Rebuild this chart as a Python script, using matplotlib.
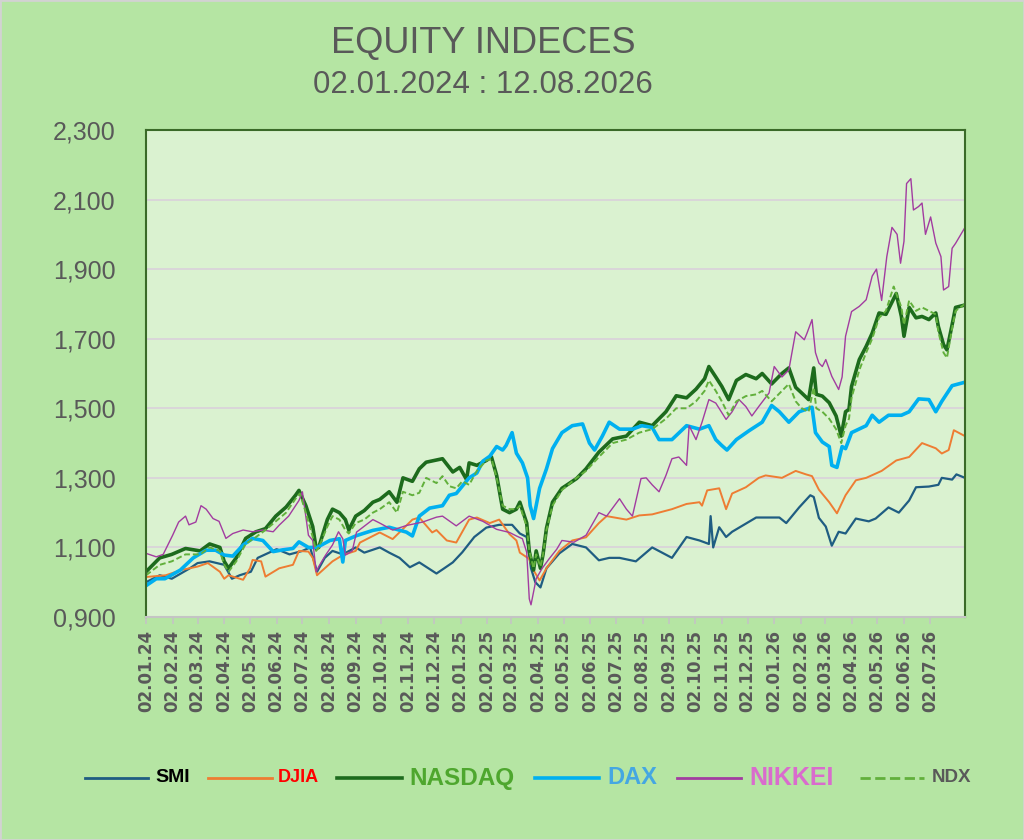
import matplotlib
matplotlib.use("Agg")
import matplotlib.pyplot as plt
import matplotlib.dates as mdates
from matplotlib.lines import Line2D
from matplotlib.patches import Rectangle
import numpy as np
import pandas as pd

# index levels, x = days since 02.01.2024
start = pd.Timestamp("2024-01-02")
end_day = 953

smi_day = [0, 16, 30, 51, 60, 74, 91, 100, 109, 122, 130, 152, 167, 182, 191, 199, 208, 217, 229, 244,
           254, 272, 283, 295, 307, 318, 338, 347, 357, 368, 382, 396, 411, 426, 435, 443, 448, 453, 459, 466,
           481, 496, 512, 527, 539, 551, 570, 589, 612, 629, 644, 655, 657, 660, 667, 675, 682, 710, 737, 745,
           760, 773, 777, 783, 791, 798, 806, 814, 826, 841, 849, 864, 876, 888, 896, 911, 922, 926, 938, 943, 953]
smi_val = [1.00, 1.02, 1.01, 1.04, 1.055, 1.06, 1.05, 1.01, 1.02, 1.03, 1.07, 1.095, 1.08, 1.09, 1.10, 1.03, 1.07, 1.09, 1.08, 1.10,
           1.085, 1.10, 1.085, 1.07, 1.043, 1.057, 1.025, 1.04, 1.057, 1.086, 1.13, 1.157, 1.165, 1.165, 1.14, 1.13, 1.04, 1.00, 0.985, 1.04,
           1.083, 1.11, 1.10, 1.063, 1.07, 1.07, 1.06, 1.10, 1.07, 1.13, 1.12, 1.11, 1.19, 1.10, 1.158, 1.13, 1.145, 1.186, 1.186, 1.17,
           1.215, 1.25, 1.245, 1.185, 1.16, 1.105, 1.145, 1.14, 1.183, 1.175, 1.183, 1.215, 1.20, 1.235, 1.273, 1.275, 1.28, 1.30, 1.295, 1.31, 1.30]

djia_day = [0, 23, 41, 60, 72, 86, 91, 96, 113, 121, 124, 134, 139, 155, 171, 178, 189, 194, 199, 217,
            229, 244, 249, 272, 287, 310, 318, 333, 338, 350, 361, 376, 385, 400, 411, 423, 431, 435, 446, 452,
            458, 466, 481, 496, 512, 527, 536, 559, 574, 589, 612, 629, 644, 647, 653, 667, 675, 682, 698, 713,
            721, 740, 756, 768, 775, 783, 795, 804, 814, 826, 838, 856, 873, 888, 903, 919, 926, 934, 940, 953]
djia_val = [1.015, 1.02, 1.035, 1.045, 1.055, 1.03, 1.01, 1.02, 1.007, 1.04, 1.064, 1.06, 1.016, 1.04, 1.05, 1.09, 1.088, 1.07, 1.02, 1.06,
            1.078, 1.09, 1.114, 1.143, 1.124, 1.18, 1.186, 1.143, 1.15, 1.12, 1.114, 1.18, 1.186, 1.17, 1.18, 1.138, 1.12, 1.085, 1.067, 1.03,
            1.005, 1.04, 1.09, 1.12, 1.129, 1.17, 1.19, 1.18, 1.192, 1.195, 1.21, 1.225, 1.23, 1.22, 1.264, 1.27, 1.21, 1.255, 1.273, 1.30,
            1.307, 1.30, 1.32, 1.31, 1.305, 1.266, 1.23, 1.198, 1.25, 1.293, 1.30, 1.32, 1.35, 1.36, 1.40, 1.385, 1.37, 1.38, 1.437, 1.42]

nasdaq_day = [0, 16, 30, 46, 63, 74, 86, 91, 96, 105, 116, 128, 139, 151, 163, 174, 178, 186, 194, 198,
              201, 211, 217, 225, 232, 236, 244, 254, 264, 272, 283, 292, 299, 310, 318, 326, 345, 357, 365, 373,
              376, 385, 396, 402, 408, 415, 423, 431, 435, 443, 446, 451, 454, 459, 462, 466, 473, 484, 501, 512,
              527, 543, 559, 574, 589, 605, 617, 629, 640, 650, 655, 663, 670, 678, 687, 698, 710, 717, 728, 740,
              748, 756, 763, 771, 777, 780, 787, 795, 803, 809, 814, 818, 821, 830, 838, 845, 853, 861, 873, 879,
              882, 888, 896, 903, 911, 919, 922, 928, 932, 938, 942, 953]
nasdaq_val = [1.03, 1.07, 1.08, 1.097, 1.09, 1.11, 1.10, 1.06, 1.04, 1.07, 1.126, 1.145, 1.154, 1.19, 1.216, 1.25, 1.264, 1.22, 1.16, 1.097,
              1.10, 1.18, 1.21, 1.20, 1.18, 1.15, 1.19, 1.206, 1.23, 1.238, 1.26, 1.23, 1.30, 1.29, 1.326, 1.345, 1.355, 1.317, 1.33, 1.295,
              1.343, 1.336, 1.35, 1.36, 1.307, 1.21, 1.20, 1.21, 1.23, 1.17, 1.088, 1.035, 1.09, 1.04, 1.08, 1.155, 1.23, 1.27, 1.298, 1.326,
              1.374, 1.412, 1.42, 1.46, 1.45, 1.49, 1.536, 1.53, 1.555, 1.585, 1.62, 1.59, 1.563, 1.525, 1.58, 1.597, 1.585, 1.60, 1.57, 1.60,
              1.616, 1.56, 1.544, 1.525, 1.616, 1.54, 1.535, 1.516, 1.478, 1.42, 1.49, 1.497, 1.563, 1.64, 1.678, 1.716, 1.774, 1.77, 1.83, 1.764,
              1.707, 1.79, 1.76, 1.764, 1.755, 1.774, 1.735, 1.683, 1.668, 1.74, 1.79, 1.797]

dax_day = [0, 12, 22, 40, 55, 70, 81, 91, 101, 113, 124, 136, 148, 159, 171, 178, 189, 199, 214, 225,
           229, 232, 245, 264, 283, 303, 310, 318, 330, 345, 353, 361, 368, 376, 385, 392, 400, 408, 415, 419,
           426, 431, 438, 444, 447, 451, 454, 458, 466, 473, 484, 496, 508, 516, 522, 531, 539, 551, 566, 577,
           589, 597, 612, 629, 644, 655, 663, 670, 676, 687, 702, 717, 728, 737, 748, 760, 775, 779, 787, 795,
           798, 804, 810, 814, 821, 838, 845, 853, 864, 879, 888, 899, 911, 919, 926, 938, 953]
dax_val = [0.99, 1.01, 1.01, 1.035, 1.07, 1.092, 1.092, 1.078, 1.075, 1.107, 1.126, 1.12, 1.088, 1.093, 1.097, 1.116, 1.10, 1.10, 1.12, 1.125,
           1.058, 1.12, 1.134, 1.149, 1.158, 1.144, 1.133, 1.19, 1.213, 1.22, 1.25, 1.255, 1.276, 1.30, 1.314, 1.348, 1.362, 1.39, 1.38, 1.393,
           1.43, 1.371, 1.343, 1.30, 1.22, 1.183, 1.22, 1.27, 1.326, 1.384, 1.43, 1.45, 1.455, 1.40, 1.38, 1.42, 1.46, 1.44, 1.44, 1.45,
           1.445, 1.41, 1.41, 1.45, 1.44, 1.45, 1.41, 1.393, 1.38, 1.41, 1.436, 1.46, 1.508, 1.49, 1.46, 1.49, 1.503, 1.43, 1.403, 1.39,
           1.336, 1.33, 1.39, 1.384, 1.43, 1.45, 1.48, 1.46, 1.48, 1.48, 1.49, 1.527, 1.525, 1.49, 1.52, 1.565, 1.575]

nikkei_day = [0, 12, 20, 31, 38, 46, 50, 58, 64, 70, 78, 85, 93, 101, 113, 124, 136, 148, 155, 166,
              178, 182, 189, 194, 198, 201, 209, 217, 224, 229, 232, 240, 245, 264, 272, 287, 303, 322, 338, 345,
              361, 376, 392, 408, 423, 431, 438, 443, 446, 448, 454, 461, 469, 478, 484, 498, 512, 527, 536, 551,
              559, 566, 576, 582, 589, 597, 605, 612, 620, 629, 632, 640, 647, 655, 663, 675, 682, 690, 698, 705,
              713, 725, 731, 740, 748, 756, 766, 769, 775, 779, 783, 787, 791, 798, 806, 810, 814, 821, 830, 838,
              845, 850, 856, 862, 868, 874, 878, 882, 885, 890, 893, 899, 903, 907, 913, 919, 925, 928, 934, 938,
              942, 953]
nikkei_val = [1.083, 1.073, 1.08, 1.135, 1.173, 1.19, 1.165, 1.173, 1.22, 1.21, 1.183, 1.175, 1.126, 1.14, 1.15, 1.145, 1.15, 1.145, 1.164, 1.19,
              1.235, 1.26, 1.135, 1.12, 1.03, 1.045, 1.078, 1.107, 1.145, 1.125, 1.078, 1.09, 1.144, 1.18, 1.17, 1.15, 1.163, 1.173, 1.187, 1.19,
              1.162, 1.19, 1.175, 1.152, 1.143, 1.133, 1.125, 1.086, 0.952, 0.935, 1.01, 1.04, 1.067, 1.095, 1.12, 1.115, 1.135, 1.20, 1.19, 1.24,
              1.21, 1.19, 1.298, 1.30, 1.28, 1.26, 1.307, 1.355, 1.36, 1.336, 1.45, 1.41, 1.46, 1.525, 1.515, 1.468, 1.49, 1.525, 1.505, 1.478,
              1.505, 1.544, 1.62, 1.59, 1.61, 1.72, 1.697, 1.715, 1.755, 1.66, 1.63, 1.62, 1.64, 1.592, 1.554, 1.59, 1.707, 1.778, 1.793, 1.812,
              1.88, 1.90, 1.81, 1.936, 2.02, 2.00, 1.917, 1.98, 2.146, 2.16, 2.07, 2.08, 2.09, 2.00, 2.05, 1.975, 1.936, 1.84, 1.85, 1.96,
              1.974, 2.02]

ndx_day = [0, 16, 30, 46, 63, 74, 86, 91, 96, 105, 116, 128, 139, 151, 163, 174, 179, 186, 194, 198,
           201, 211, 217, 225, 232, 236, 244, 254, 264, 272, 283, 292, 299, 310, 318, 326, 338, 345, 353, 361,
           368, 376, 385, 396, 402, 408, 415, 423, 431, 435, 443, 446, 451, 454, 459, 462, 466, 473, 484, 501,
           512, 527, 543, 559, 574, 589, 605, 617, 629, 640, 650, 655, 663, 670, 678, 687, 698, 710, 717, 728,
           740, 748, 756, 763, 771, 777, 780, 787, 795, 803, 809, 814, 818, 821, 830, 838, 845, 853, 861, 870,
           879, 882, 888, 896, 903, 911, 919, 922, 928, 932, 938, 942, 953]
ndx_val = [1.02, 1.05, 1.06, 1.08, 1.08, 1.10, 1.09, 1.05, 1.03, 1.06, 1.11, 1.13, 1.15, 1.175, 1.20, 1.24, 1.255, 1.20, 1.13, 1.09,
           1.10, 1.16, 1.19, 1.18, 1.15, 1.14, 1.17, 1.18, 1.20, 1.21, 1.23, 1.20, 1.26, 1.25, 1.257, 1.30, 1.285, 1.305, 1.276, 1.27,
           1.29, 1.28, 1.32, 1.35, 1.355, 1.30, 1.22, 1.21, 1.21, 1.22, 1.16, 1.09, 1.04, 1.08, 1.045, 1.08, 1.15, 1.22, 1.265, 1.30,
           1.32, 1.36, 1.40, 1.41, 1.43, 1.44, 1.47, 1.50, 1.50, 1.52, 1.55, 1.58, 1.55, 1.52, 1.48, 1.52, 1.535, 1.54, 1.55, 1.52,
           1.55, 1.57, 1.52, 1.50, 1.49, 1.56, 1.50, 1.49, 1.47, 1.44, 1.40, 1.45, 1.47, 1.53, 1.61, 1.66, 1.70, 1.76, 1.78, 1.85,
           1.79, 1.74, 1.81, 1.78, 1.79, 1.78, 1.77, 1.72, 1.66, 1.645, 1.73, 1.78, 1.80]

labels = ["SMI", "DJIA", "NASDAQ", "DAX", "NIKKEI", "NDX"]
line_colors = ["#1f5d82", "#ee7d33", "#1d6b1d", "#00b0f0", "#a23ca0", "#62b03c"]
text_colors = ["#000000", "#ff0000", "#4ea72e", "#45a7e2", "#d96ccd", "#595959"]
legend_sizes = [14, 13, 17.5, 17, 18, 13.5]

FONT = ["Liberation Sans", "DejaVu Sans"]
GREY = "#595959"

fig = plt.figure(figsize=(10.24, 8.4), dpi=100, facecolor="#b5e5a3")
ax = fig.add_axes([146 / 1024, 1 - 617 / 840, (965 - 146) / 1024, (617 - 130) / 840])
ax.set_facecolor("#daf2d0")


def dates(days):
    return start + pd.to_timedelta(days, unit="D")


lines = []
lines += ax.plot(dates(smi_day), smi_val, color=line_colors[0], lw=1.6)
lines += ax.plot(dates(djia_day), djia_val, color=line_colors[1], lw=1.4)
lines += ax.plot(dates(nasdaq_day), nasdaq_val, color=line_colors[2], lw=2.6)
lines += ax.plot(dates(dax_day), dax_val, color=line_colors[3], lw=2.6)
lines += ax.plot(dates(nikkei_day), nikkei_val, color=line_colors[4], lw=1.0)
lines += ax.plot(dates(ndx_day), ndx_val, color=line_colors[5], lw=1.4, ls=(0, (3, 1.5)))

# axes
ax.set_xlim(start, start + pd.Timedelta(days=end_day))
ax.set_ylim(0.9, 2.3)
yt = np.arange(0.9, 2.31, 0.2)
ax.set_yticks(yt)
ax.set_yticklabels([f"{v:.3f}".replace(".", ",") for v in yt], family=FONT, fontsize=18, color=GREY)
ax.grid(axis="y", color="#d9d4d9", lw=1.3)
ax.set_axisbelow(True)

months = pd.date_range("2024-01-02", "2026-07-02", freq=pd.DateOffset(months=1))
ax.set_xticks(months)
ax.xaxis.set_major_formatter(mdates.DateFormatter("%d.%m.%y"))
for t in ax.get_xticklabels():
    t.set_rotation(90)
    t.set_fontweight("bold")
    t.set_fontsize(12)
    t.set_color(GREY)

ax.tick_params(axis="y", length=0, pad=22)
ax.tick_params(axis="x", length=5, width=1.2, color="#c4c4c4", pad=4)

for side in ["left", "top", "right"]:
    ax.spines[side].set_color("#3a6a28")
    ax.spines[side].set_linewidth(1.5)
ax.spines["bottom"].set_color("#c4c4c4")
ax.spines["bottom"].set_linewidth(1.5)

# titles
fig.text(483 / 1024, 1 - 44 / 840, "EQUITY INDECES", ha="center", va="center",
         family=FONT, fontsize=26, color=GREY)
fig.text(483 / 1024, 1 - 85 / 840, "02.01.2024 : 12.08.2026", ha="center", va="center",
         family=FONT, fontsize=22.5, color=GREY)

# legend row, laid out like the reference
leg_line_x = [(85, 148), (208, 272), (337, 402), (535, 599), (677, 741), (860, 924)]
leg_text_x = [155, 278, 409, 607, 749, 932]
leg_y = 1 - 778 / 840
for i, src in enumerate(lines):
    x0, x1 = leg_line_x[i]
    fig.add_artist(Line2D([x0 / 1024, x1 / 1024], [leg_y, leg_y], transform=fig.transFigure,
                          color=src.get_color(), lw=max(src.get_linewidth(), 2.0),
                          ls=src.get_linestyle()))
    fig.text(leg_text_x[i] / 1024, leg_y, labels[i], ha="left", va="center", family=FONT,
             fontweight="bold", fontsize=legend_sizes[i], color=text_colors[i])

fig.patches.append(Rectangle((0, 0), 1, 1, transform=fig.transFigure, fill=False,
                             edgecolor="#d2d2d2", lw=2))

fig.savefig("out.png", dpi=100, facecolor=fig.get_facecolor())
